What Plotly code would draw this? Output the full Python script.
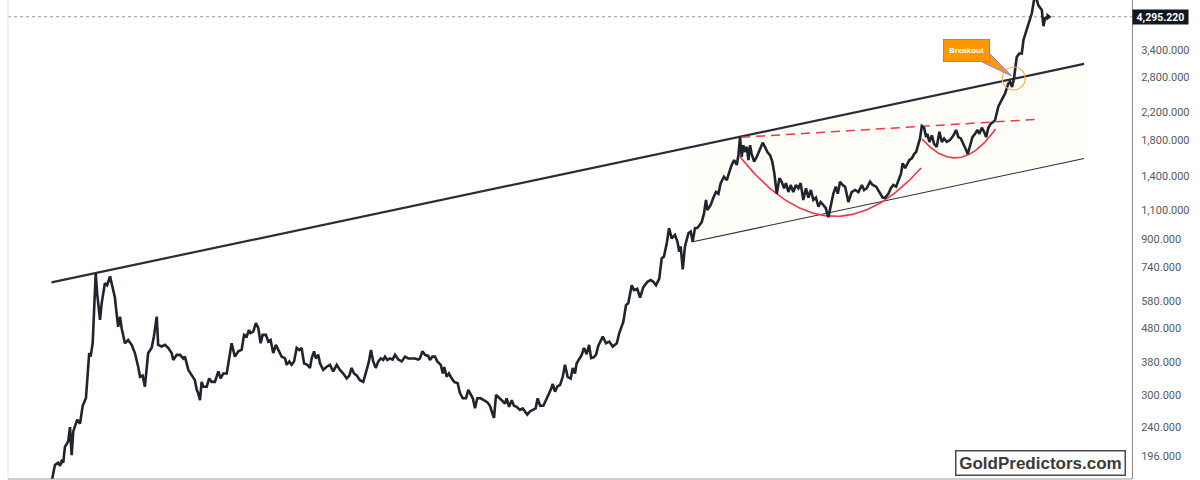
import numpy as np
import plotly.graph_objects as go

# ---------------- data ----------------
year = [
    1977.89, 1978.04, 1978.20, 1978.29, 1978.37, 1978.45, 1978.53, 1978.69, 1978.78, 1978.86,
    1978.94, 1979.13, 1979.27, 1979.40, 1979.56, 1979.62, 1979.72, 1979.79, 1979.89, 1980.04,
    1980.11, 1980.25, 1980.33, 1980.49, 1980.60, 1980.74, 1980.85, 1980.98, 1981.06, 1981.14,
    1981.23, 1981.31, 1981.47, 1981.63, 1981.80, 1981.96, 1982.12, 1982.21, 1982.34, 1982.45,
    1982.61, 1982.78, 1982.89, 1983.03, 1983.10, 1983.27, 1983.43, 1983.59, 1983.76, 1983.84,
    1984.01, 1984.17, 1984.33, 1984.41, 1984.58, 1984.74, 1984.90, 1984.99, 1985.06, 1985.15,
    1985.23, 1985.31, 1985.48, 1985.60, 1985.72, 1985.88, 1986.05, 1986.16, 1986.29, 1986.46,
    1986.58, 1986.70, 1986.86, 1987.03, 1987.19, 1987.31, 1987.44, 1987.55, 1987.63, 1987.76,
    1987.89, 1988.01, 1988.12, 1988.22, 1988.38, 1988.50, 1988.61, 1988.74, 1988.87, 1988.99,
    1989.15, 1989.32, 1989.40, 1989.53, 1989.64, 1989.76, 1989.89, 1990.02, 1990.13, 1990.25,
    1990.41, 1990.54, 1990.62, 1990.74, 1990.83, 1990.95, 1991.03, 1991.19, 1991.36, 1991.52,
    1991.68, 1991.85, 1992.01, 1992.17, 1992.34, 1992.47, 1992.58, 1992.70, 1992.83, 1992.99,
    1993.15, 1993.32, 1993.43, 1993.53, 1993.64, 1993.76, 1993.89, 1994.01, 1994.13, 1994.22,
    1994.33, 1994.46, 1994.59, 1994.71, 1994.87, 1995.04, 1995.20, 1995.36, 1995.53, 1995.69,
    1995.85, 1995.93, 1996.05, 1996.18, 1996.34, 1996.42, 1996.54, 1996.67, 1996.78, 1996.95,
    1997.05, 1997.12, 1997.24, 1997.35, 1997.49, 1997.61, 1997.78, 1997.89, 1998.03, 1998.19,
    1998.30, 1998.42, 1998.52, 1998.63, 1998.74, 1998.91, 1999.07, 1999.23, 1999.36, 1999.45,
    1999.56, 1999.66, 1999.77, 1999.94, 2000.10, 2000.18, 2000.30, 2000.43, 2000.54, 2000.67,
    2000.83, 2000.97, 2001.08, 2001.19, 2001.32, 2001.49, 2001.60, 2001.70, 2001.82, 2001.98,
    2002.11, 2002.22, 2002.34, 2002.44, 2002.55, 2002.66, 2002.80, 2002.93, 2003.04, 2003.17,
    2003.32, 2003.42, 2003.53, 2003.61, 2003.74, 2003.86, 2003.97, 2004.10, 2004.22, 2004.32,
    2004.44, 2004.56, 2004.67, 2004.89, 2005.05, 2005.21, 2005.38, 2005.58, 2005.70, 2005.90,
    2006.03, 2006.14, 2006.31, 2006.42, 2006.58, 2006.72, 2006.88, 2007.08, 2007.24, 2007.37,
    2007.50, 2007.66, 2007.78, 2007.89, 2008.03, 2008.14, 2008.27, 2008.43, 2008.55, 2008.64,
    2008.71, 2008.81, 2008.92, 2009.09, 2009.20, 2009.30, 2009.41, 2009.53, 2009.62, 2009.74,
    2009.85, 2009.95, 2010.02, 2010.18, 2010.31, 2010.44, 2010.56, 2010.67, 2010.83, 2010.97,
    2011.10, 2011.21, 2011.33, 2011.46, 2011.54, 2011.62, 2011.70, 2011.78, 2011.86, 2011.95,
    2012.03, 2012.11, 2012.19, 2012.31, 2012.44, 2012.57, 2012.73, 2012.84, 2012.96, 2013.09,
    2013.20, 2013.30, 2013.42, 2013.55, 2013.66, 2013.78, 2013.87, 2013.99, 2014.10, 2014.23,
    2014.36, 2014.48, 2014.59, 2014.72, 2014.85, 2014.97, 2015.09, 2015.21, 2015.34, 2015.46,
    2015.57, 2015.70, 2015.82, 2015.95, 2016.07, 2016.19, 2016.31, 2016.41, 2016.52, 2016.65,
    2016.77, 2016.93, 2017.09, 2017.26, 2017.42, 2017.59, 2017.70, 2017.83, 2017.99, 2018.12,
    2018.29, 2018.45, 2018.61, 2018.73, 2018.89, 2019.01, 2019.13, 2019.27, 2019.38, 2019.51,
    2019.59, 2019.71, 2019.79, 2019.92, 2020.04, 2020.15, 2020.25, 2020.36, 2020.44, 2020.53,
    2020.64, 2020.74, 2020.80, 2020.90, 2021.02, 2021.13, 2021.26, 2021.39, 2021.51, 2021.62,
    2021.75, 2021.91, 2022.08, 2022.21, 2022.32, 2022.44, 2022.57, 2022.70, 2022.78, 2022.89,
    2023.01, 2023.14, 2023.25, 2023.35, 2023.47, 2023.58, 2023.68, 2023.79, 2023.91, 2024.04,
    2024.12, 2024.28, 2024.45, 2024.61, 2024.77, 2024.85, 2024.95, 2025.05, 2025.10, 2025.18,
    2025.31, 2025.43, 2025.51, 2025.67, 2025.83, 2025.92, 2026.08, 2026.24, 2026.41, 2026.49,
    2026.57, 2026.72,
]
price = [
    165, 184, 187, 183, 189, 187, 209, 217, 240, 197,
    233, 253, 246, 279, 294, 327, 404, 394, 433, 709,
    614, 510, 573, 660, 651, 693, 642, 597, 535, 486,
    522, 481, 433, 443, 428, 404, 367, 342, 345, 319,
    404, 419, 454, 522, 428, 423, 428, 419, 404, 385,
    399, 399, 389, 394, 359, 345, 334, 312, 305, 290,
    330, 319, 319, 338, 330, 330, 355, 338, 350, 350,
    385, 433, 394, 409, 413, 459, 454, 475, 465, 470,
    499, 481, 433, 459, 459, 438, 443, 404, 428, 413,
    394, 389, 372, 381, 372, 381, 419, 413, 419, 376,
    372, 364, 389, 409, 389, 399, 376, 359, 367, 372,
    355, 372, 359, 350, 338, 345, 364, 350, 345, 334,
    330, 359, 381, 413, 381, 364, 381, 389, 385, 394,
    385, 389, 386, 399, 386, 381, 394, 389, 389, 389,
    386, 389, 409, 399, 396, 385, 394, 394, 381, 372,
    350, 366, 342, 350, 338, 330, 327, 305, 294, 294,
    312, 301, 294, 274, 294, 294, 290, 286, 279, 268,
    256, 301, 297, 290, 283, 294, 277, 290, 279, 277,
    271, 274, 268, 262, 268, 271, 274, 294, 279, 279,
    290, 301, 312, 325, 308, 319, 323, 342, 372, 342,
    338, 364, 350, 376, 389, 399, 419, 401, 428, 390,
    392, 399, 425, 454, 433, 438, 423, 433, 465, 504,
    566, 573, 651, 629, 635, 597, 642, 667, 675, 667,
    651, 682, 786, 796, 876, 972, 905, 927, 884, 824,
    855, 728, 855, 938, 949, 884, 972, 975, 990, 1014,
    1076, 1185, 1104, 1144, 1204, 1253, 1238, 1334, 1395, 1363,
    1446, 1516, 1569, 1516, 1625, 1843, 1605, 1741, 1660, 1722,
    1569, 1741, 1636, 1551, 1605, 1684, 1773, 1722, 1660, 1625,
    1551, 1429, 1238, 1380, 1347, 1287, 1334, 1253, 1316, 1253,
    1316, 1287, 1334, 1185, 1287, 1204, 1271, 1185, 1204, 1130,
    1168, 1144, 1119, 1050, 1144, 1238, 1301, 1238, 1347, 1316,
    1300, 1168, 1253, 1271, 1253, 1316, 1271, 1287, 1347, 1316,
    1301, 1253, 1204, 1204, 1238, 1287, 1316, 1301, 1363, 1429,
    1534, 1482, 1516, 1569, 1587, 1636, 1660, 1759, 1826, 1993,
    1969, 1843, 1886, 1782, 1865, 1759, 1722, 1914, 1782, 1826,
    1782, 1806, 1865, 1938, 1843, 1826, 1741, 1684, 1637, 1722,
    1843, 1886, 1938, 1886, 1969, 1914, 1843, 1969, 2027, 2052,
    2079, 2288, 2392, 2506, 2689, 2720, 2620, 2790, 2954, 3236,
    3318, 3318, 3648, 3914, 4200, 4400, 5050, 4654, 4504, 4020,
    4250, 4295.22,
]

y_ticks = [196, 240, 300, 380, 480, 580, 740, 900, 1100, 1400, 1800, 2200, 2800, 3400]
last_price = 4295.22

# drawing anchors (data units)
resist_year = [1977.87, 2028.48]
resist_price = [664, 3083]
support_year = [2009.25, 2028.48]
support_price = [882, 1586]
neck_year = [2011.67, 2026.19]
neck_price = [1841, 2089]
cup1_year = [2011.62, 2015.93, 2020.49]
cup1_price = [1603, 1059, 1484]
cup2_year = [2020.54, 2022.50, 2024.14]
cup2_price = [1819, 1603, 1952]
breakout_year = [2025.03]
breakout_price = [2783]
callout_year = 2022.72
callout_price = 3388
tail_year = [2023.87, 2024.93, 2023.48]
tail_price = [3306, 2832, 3126]

x_range = [1975.74, 2030.83]
y_range = [2.2220, 3.6841]

# ---------------- figure ----------------
fig = go.Figure()

# channel fill (between support and resistance)
lr = np.log10(resist_price)
top_at = [10 ** np.interp(t, resist_year, lr) for t in support_year]
fig.add_trace(go.Scatter(
    x=[support_year[0], support_year[1], support_year[1], support_year[0], support_year[0]],
    y=[top_at[0], top_at[1], support_price[1], support_price[0], top_at[0]],
    fill="toself", fillcolor="#fffdf8", line=dict(width=0), mode="lines",
    hoverinfo="skip", showlegend=False))

# resistance line
fig.add_trace(go.Scatter(x=resist_year, y=resist_price, mode="lines",
                         line=dict(color="#2a2d35", width=2.2), showlegend=False))
# support line
fig.add_trace(go.Scatter(x=support_year, y=support_price, mode="lines",
                         line=dict(color="#2a2d35", width=1.1), showlegend=False))
# neckline dashed
fig.add_trace(go.Scatter(x=neck_year, y=neck_price, mode="lines",
                         line=dict(color="#f23645", width=1.5, dash="9px,6px"), showlegend=False))


def arc(xs, ps, n=80):
    c = np.polyfit(xs, np.log10(ps), 2)
    tt = np.linspace(xs[0], xs[-1], n)
    return tt, 10 ** np.polyval(c, tt)


for xs, ps in [(cup1_year, cup1_price), (cup2_year, cup2_price)]:
    tt, pp = arc(xs, ps)
    fig.add_trace(go.Scatter(x=tt, y=pp, mode="lines",
                             line=dict(color="#f23645", width=1.6), showlegend=False))

# last price dotted line
fig.add_trace(go.Scatter(x=x_range, y=[last_price, last_price], mode="lines",
                         line=dict(color="#9598a1", width=1, dash="dot"), showlegend=False))

# price line
fig.add_trace(go.Scatter(x=year, y=price, mode="lines",
                         line=dict(color="#20242d", width=2.6), showlegend=False))
fig.add_trace(go.Scatter(x=[year[-1]], y=[price[-1]], mode="markers",
                         marker=dict(color="#20242d", size=7, symbol="triangle-right"),
                         showlegend=False))

# breakout circle
fig.add_trace(go.Scatter(x=breakout_year, y=breakout_price, mode="markers",
                         marker=dict(symbol="circle-open", size=23, color="#f6b24c",
                                     line=dict(width=1.2, color="#f6b24c")),
                         showlegend=False))

# callout tail
fig.add_trace(go.Scatter(x=tail_year + [tail_year[0]], y=tail_price + [tail_price[0]],
                         fill="toself", fillcolor="#ff9800", mode="lines",
                         line=dict(color="#8c7cf0", width=1), showlegend=False))

annotations = [
    dict(x=callout_year, y=np.log10(callout_price), xref="x", yref="y",
         text="<b>Breakout</b>", showarrow=False, bgcolor="#ff9800",
         bordercolor="#8c7cf0", borderwidth=1, borderpad=0, width=45, height=21,
         font=dict(color="white", size=8, family="Liberation Sans")),
    dict(x=1, y=np.log10(last_price), xref="paper", yref="y", xanchor="left",
         yanchor="middle", text="<b>4,295.220</b>", showarrow=False,
         bgcolor="#131722", borderpad=1, width=53, height=12,
         font=dict(color="white", size=10.5, family="Roboto")),
    dict(x=(1040.5 - 8) / 1124, y=(479 - 462.5) / 479, xref="paper", yref="paper",
         xanchor="center", yanchor="middle", text="<b>GoldPredictors.com</b>",
         showarrow=False, bgcolor="white", bordercolor="#4a4a4a", borderwidth=1.5,
         borderpad=1, width=166, height=21,
         font=dict(color="#3a3a3a", size=17, family="Liberation Sans")),
]

shapes = [
    dict(type="line", xref="paper", yref="paper", x0=0, x1=0, y0=0, y1=1,
         line=dict(color="#e3e3e3", width=1)),
    dict(type="line", xref="paper", yref="paper", x0=0, x1=1, y0=0, y1=0,
         line=dict(color="#9a9a9a", width=1)),
]

fig.update_layout(
    width=1200, height=480,
    margin=dict(l=8, r=68, t=0, b=1),
    paper_bgcolor="white", plot_bgcolor="white",
    showlegend=False, hovermode=False,
    annotations=annotations, shapes=shapes,
    xaxis=dict(range=x_range, showgrid=False, zeroline=False, showticklabels=False,
               showline=False, ticks=""),
    yaxis=dict(type="log", range=y_range, side="right", showgrid=False, zeroline=False,
               tickmode="array", tickvals=y_ticks,
               ticktext=[f"{v:,.3f}" for v in y_ticks],
               tickfont=dict(family="Roboto", size=11, color="#555a63"),
               showline=True, linecolor="#8a8a8a", linewidth=1, ticks="",
               ticklabelstandoff=6),
)

fig.write_html("out.html", config={"displayModeBar": False},
               post_script="document.body.style.margin='0px';document.body.style.overflow='hidden';")
